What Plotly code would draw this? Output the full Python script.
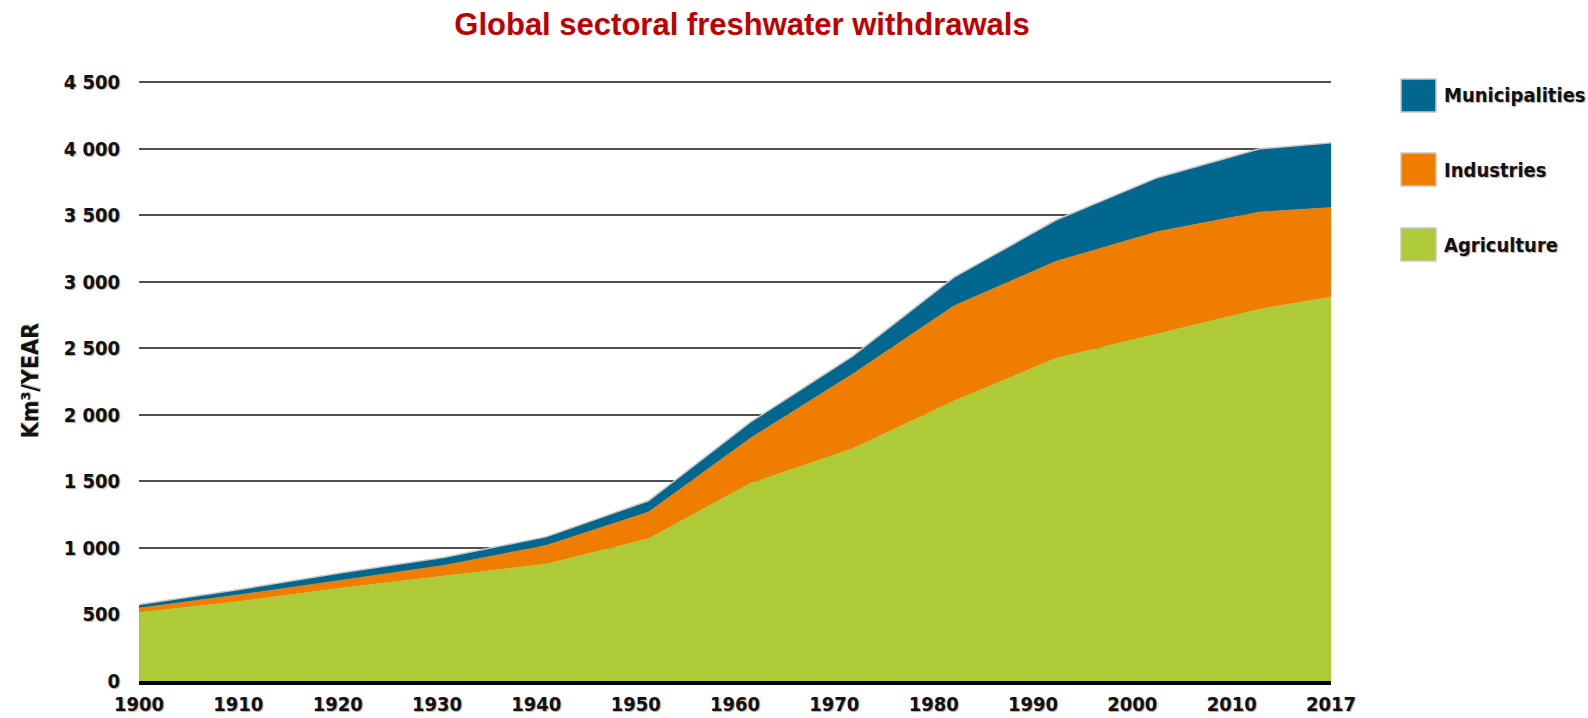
import numpy as np
import plotly.graph_objects as go

years = [1900, 1910, 1920, 1930, 1940, 1950, 1960, 1970, 1980, 1990, 2000, 2010, 2017]
agriculture = [515, 600, 700, 790, 880, 1070, 1485, 1745, 2105, 2425, 2610, 2795, 2887]
industries = [33, 50, 60, 80, 140, 200, 340, 560, 715, 730, 768, 731, 672]
municipalities = [27, 40, 55, 60, 65, 85, 120, 135, 215, 310, 407, 474, 486]

tick_labels = ["1900", "1910", "1920", "1930", "1940", "1950", "1960",
               "1970", "1980", "1990", "2000", "2010", "2017"]
y_ticks = [0, 500, 1000, 1500, 2000, 2500, 3000, 3500, 4000, 4500]

series = [
    ("Agriculture", agriculture, "#afca37"),
    ("Industries", industries, "#ee7d00"),
    ("Municipalities", municipalities, "#01678f"),
]

LBL = "DejaVu Sans Condensed, DejaVu Sans, sans-serif"
SHADOW = "1px 1px 1px #b0b0b0"

fig = go.Figure()
for name, vals, col in series:
    top = name == "Municipalities"
    fig.add_trace(go.Scatter(
        x=years, y=vals, name=name, mode="lines", stackgroup="one",
        fillcolor=col,
        line=dict(color="#c8c8c8" if top else col, width=1.5 if top else 0.5),
        showlegend=False,
    ))

W, H = 1588, 718
L, R, T, B = 139, 257, 69, 37
fig.update_layout(
    width=W, height=H,
    margin=dict(l=L, r=R, t=T, b=B),
    paper_bgcolor="white", plot_bgcolor="white",
    title=dict(text="<b>Global sectoral freshwater withdrawals</b>",
               x=742 / W, xref="container", xanchor="center",
               y=1 - 24 / H, yref="container", yanchor="middle",
               font=dict(family="Liberation Sans, Arial, sans-serif", size=31, color="#c00000")),
    xaxis=dict(range=[1900, 2017], tickmode="array", automargin=False,
               tickvals=list(np.linspace(1900, 2017, len(tick_labels))),
               ticktext=["<b>%s</b>" % t for t in tick_labels],
               showgrid=False, zeroline=False, showline=True, linecolor="black", linewidth=4,
               ticks="", ticklabelstandoff=2,
               tickfont=dict(family=LBL, size=20, color="#111", shadow=SHADOW)),
    yaxis=dict(range=[0, 4600], tickmode="array", tickvals=y_ticks, automargin=False,
               ticktext=["<b>%s</b>" % ("{:,}".format(v).replace(",", " ")) for v in y_ticks],
               showgrid=True, gridcolor="#505050", gridwidth=2, zeroline=False,
               showline=False, ticks="", ticklabelstandoff=18,
               tickfont=dict(family=LBL, size=20, color="#111", shadow=SHADOW)),
)

# y-axis title
fig.add_annotation(text="<b>Km³/YEAR</b>", xref="paper", yref="paper",
                   x=(30 - L) / (W - L - R), y=(680.6 - 380) / (H - T - B),
                   xanchor="center", yanchor="middle", textangle=-90, showarrow=False,
                   font=dict(family=LBL, size=23, color="#111", shadow=SHADOW))

# legend drawn manually
pw, ph = W - L - R, H - T - B
leg = [("Municipalities", "#01678f", 79, 112),
       ("Industries", "#ee7d00", 153, 186),
       ("Agriculture", "#afca37", 228, 261)]
for name, col, y0, y1 in leg:
    fig.add_shape(type="rect", xref="paper", yref="paper",
                  x0=(1401 - L) / pw, x1=(1436 - L) / pw,
                  y0=(H - B - y1) / ph, y1=(H - B - y0) / ph,
                  fillcolor=col, line=dict(color="#c8c8c8", width=1.5))
    fig.add_annotation(text="<b>%s</b>" % name, xref="paper", yref="paper",
                       x=(1442 - L) / pw, y=(H - B - (y0 + y1) / 2) / ph,
                       xanchor="left", yanchor="middle", showarrow=False,
                       font=dict(family=LBL, size=20, color="#111", shadow=SHADOW))

fig.write_html("out.html", config={"displayModeBar": False})
